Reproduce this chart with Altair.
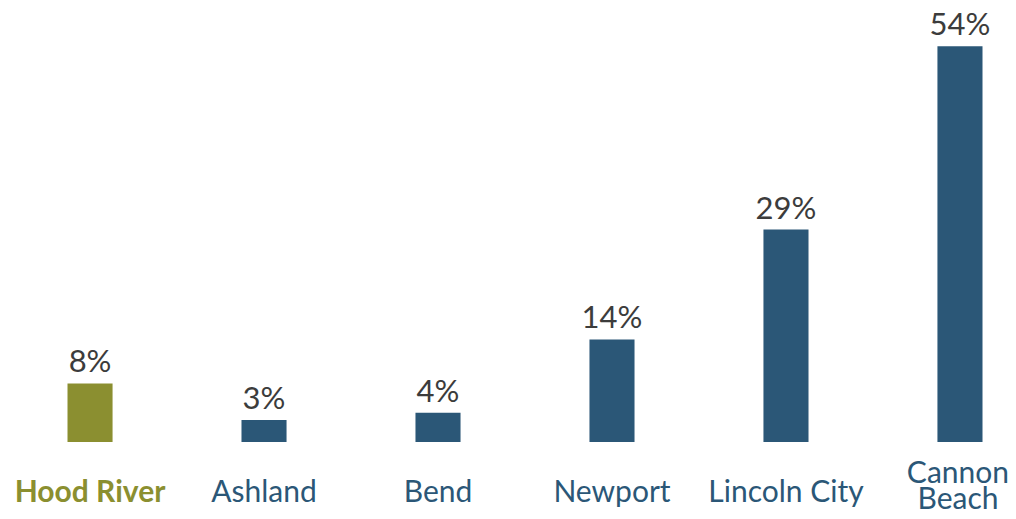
import altair as alt
import pandas as pd

cities = ["Hood River", "Ashland", "Bend", "Newport", "Lincoln City", "Cannon Beach"]
city_labels = ["Hood River", "Ashland", "Bend", "Newport", "Lincoln City", "Cannon\nBeach"]
values = [8, 3, 4, 14, 29, 54]
labels = ["8%", "3%", "4%", "14%", "29%", "54%"]
highlight = [True, False, False, False, False, False]
two_line = [False, False, False, False, False, True]

df = pd.DataFrame({"city": cities, "city_label": city_labels, "value": values,
                   "label": labels, "hl": highlight, "two": two_line})

BLUE = "#2b5777"
OLIVE = "#8b8f30"

x = alt.X("city:N", sort=None, title=None,
          scale=alt.Scale(paddingInner=0.741, paddingOuter=0), axis=None)
y = alt.Y("value:Q", axis=None, scale=alt.Scale(domain=[0, 55], nice=False))

base = alt.Chart(df).encode(x=x, y=y)

bars = base.mark_bar().encode(
    color=alt.Color("hl:N", scale=alt.Scale(domain=[True, False], range=[OLIVE, BLUE]), legend=None)
)
text = base.mark_text(font="Lato", fontSize=31, color="#3c3c3c", baseline="alphabetic", dy=-11).encode(
    text="label:N"
)

lab_base = alt.Chart(df).encode(x=x, y=alt.datum(0), text="city_label:N")
lab_hl = lab_base.transform_filter("datum.hl").mark_text(
    font="Lato", fontSize=30, fontWeight="bold", color=OLIVE, baseline="middle", dy=51
)
lab_one = lab_base.transform_filter("!datum.hl && !datum.two").mark_text(
    font="Lato", fontSize=30, color=BLUE, baseline="middle", dy=51
)
lab_two = lab_base.transform_filter("datum.two").mark_text(
    font="Lato", fontSize=30, color=BLUE, baseline="middle", dy=32, dx=-2,
    lineBreak="\n", lineHeight=26
)

chart = (
    alt.layer(bars, text, lab_hl, lab_one, lab_two)
    .properties(
        width=915,
        height=403,
        autosize=alt.AutoSizeParams(type="none"),
        padding={"left": 59.5, "top": 31, "right": 25.5, "bottom": 69},
    )
    .configure_view(stroke=None)
)

chart.save("out.html", embed_options={"renderer": "svg", "actions": False})
